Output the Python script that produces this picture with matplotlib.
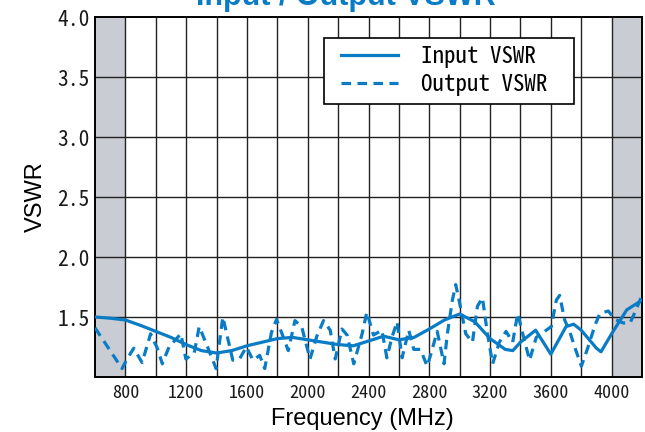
import numpy as np
import matplotlib
matplotlib.use("Agg")
import matplotlib.pyplot as plt
from matplotlib import font_manager
from matplotlib.patches import Rectangle

# Input VSWR (solid, smooth)
in_freq = [600, 700, 800, 900, 1000, 1100, 1200, 1300, 1400, 1500, 1600, 1700,
           1800, 1900, 2000, 2100, 2200, 2300, 2400, 2500, 2600, 2700, 2800,
           2900, 3000, 3100, 3200, 3300, 3350, 3400, 3500, 3600, 3700, 3750,
           3800, 3900, 3930, 4000, 4100, 4200]
in_vswr = [1.50, 1.49, 1.475, 1.43, 1.38, 1.33, 1.27, 1.22, 1.20, 1.22, 1.26, 1.29,
           1.32, 1.33, 1.31, 1.29, 1.27, 1.26, 1.30, 1.34, 1.31, 1.33, 1.40,
           1.475, 1.525, 1.46, 1.32, 1.23, 1.22, 1.29, 1.39, 1.19, 1.42, 1.44,
           1.39, 1.24, 1.21, 1.36, 1.56, 1.64]

# Output VSWR (dashed, ripply)
out_freq = [600, 778, 811, 855, 910, 966, 1010, 1043, 1087, 1165, 1198, 1253,
            1286, 1341, 1397, 1441, 1474, 1507, 1551, 1596, 1640, 1684, 1717,
            1761, 1795, 1828, 1872, 1916, 1960, 2015, 2060, 2104, 2148, 2181,
            2225, 2259, 2303, 2358, 2389, 2433, 2488, 2521, 2554, 2588, 2621,
            2665, 2698, 2742, 2786, 2808, 2852, 2897, 2919, 2952, 2974, 2996,
            3040, 3084, 3117, 3150, 3183, 3217, 3261, 3305, 3349, 3382, 3415,
            3460, 3504, 3559, 3603, 3636, 3658, 3691, 3724, 3757, 3801, 3845,
            3890, 3923, 3978, 4022, 4077, 4121, 4154, 4200]
out_vswr = [1.41, 1.07, 1.15, 1.24, 1.12, 1.36, 1.24, 1.11, 1.25, 1.36, 1.15, 1.20,
            1.42, 1.25, 1.07, 1.50, 1.32, 1.14, 1.15, 1.25, 1.14, 1.18, 1.07,
            1.37, 1.48, 1.37, 1.22, 1.47, 1.42, 1.15, 1.34, 1.47, 1.39, 1.15,
            1.40, 1.35, 1.11, 1.36, 1.54, 1.35, 1.39, 1.16, 1.33, 1.46, 1.16,
            1.39, 1.23, 1.23, 1.09, 1.18, 1.38, 1.11, 1.36, 1.64, 1.77, 1.64,
            1.36, 1.29, 1.59, 1.66, 1.36, 1.11, 1.29, 1.38, 1.29, 1.53, 1.36,
            1.14, 1.33, 1.38, 1.42, 1.64, 1.68, 1.475, 1.38, 1.25, 1.09, 1.25,
            1.43, 1.53, 1.55, 1.48, 1.45, 1.45, 1.54, 1.68]

x_ticks = [800, 1200, 1600, 2000, 2400, 2800, 3200, 3600, 4000]
y_ticks = [1.5, 2.0, 2.5, 3.0, 3.5, 4.0]
shade_bands = [(600, 800), (4000, 4200)]

blue = "#0a7cc6"


def pick_font(names):
    for n in names:
        try:
            font_manager.findfont(n, fallback_to_default=False)
            return n, True
        except Exception:
            pass
    return "DejaVu Sans Mono", False


mono, half_width = pick_font(["Noto Sans Mono CJK JP", "Noto Sans Mono CJK SC"])
# half-width CJK mono chars are 0.5em, DejaVu mono ~0.6em
k = 1.0 if half_width else 0.83

fig = plt.figure(figsize=(6.45, 4.32), dpi=100)
ax = fig.add_axes([95/645, 1 - 377/432, 547/645, 360/432])

for a, b in shade_bands:
    ax.axvspan(a, b, color="#c9ccd3", zorder=0, lw=0)

for xv in range(800, 4200, 200):
    ax.axvline(xv, color="#222222", lw=1.0, zorder=1)
for yv in y_ticks[:-1]:
    ax.axhline(yv, color="#222222", lw=1.0, zorder=1)

ax.plot(in_freq, in_vswr, color=blue, lw=2.3, label="Input VSWR", zorder=3)
ax.plot(out_freq, out_vswr, color=blue, lw=2.3, ls=(0, (3, 2)),
        label="Output VSWR", zorder=3)

ax.set_xlim(600, 4200)
ax.set_ylim(1.0, 4.0)
ax.set_xticks(x_ticks)
ax.set_yticks(y_ticks)
ax.set_xticklabels([str(v) for v in x_ticks], fontfamily=mono, fontsize=13 * k,
                   color="#1a1a1a")
ax.set_yticklabels(["%.1f" % v for v in y_ticks], fontfamily=mono, fontsize=15.5 * k,
                   color="#1a1a1a")
ax.tick_params(axis="x", length=0, pad=5)
ax.tick_params(axis="y", length=0, pad=4)
for s in ax.spines.values():
    s.set_linewidth(1.4)
    s.set_color("black")

ax.set_xlabel("Frequency (MHz)", fontsize=17, family="Liberation Sans", labelpad=1)
ax.xaxis.set_label_coords(0.488, -0.085)
ax.set_ylabel("VSWR", fontsize=17, family="Liberation Sans", labelpad=7)

# legend box drawn separately so the inner padding can match
ax.add_patch(Rectangle((0.419, 0.758), 0.457, 0.184, transform=ax.transAxes,
                       facecolor="white", edgecolor="black", lw=1.2, zorder=4))
leg = ax.legend(loc="upper left", bbox_to_anchor=(0.4497, 0.922),
                borderaxespad=0, borderpad=0, frameon=False,
                prop={"family": mono, "size": 16.5 * k}, handlelength=2.5,
                handletextpad=1.0, labelspacing=0.2)
leg.set_zorder(5)

fig.text(346 / 645, 1 - 5 / 432, "Input / Output VSWR", color=blue,
         fontsize=22, fontweight="bold", family="Liberation Sans",
         ha="center", va="baseline")

fig.savefig("out.png", dpi=100)
